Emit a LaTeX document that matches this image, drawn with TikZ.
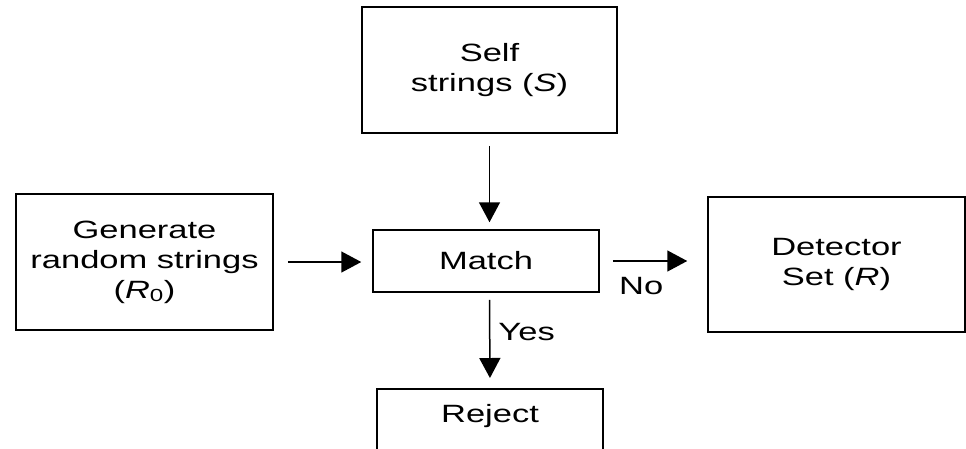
\documentclass[tikz,border=0pt]{standalone}
\usepackage{fontspec}
\setmainfont{Liberation Sans}[FakeStretch=1.38]
\usetikzlibrary{positioning, arrows.meta}

\begin{document}
\begin{tikzpicture}[x=1pt, y=-1pt,
  box/.style={draw, line width=1.5pt, align=center, font=\fontsize{25}{30}\selectfont},
  lbl/.style={font=\fontsize{25}{30}\selectfont, inner sep=2pt},
  arr/.style={-{Triangle[length=20pt, width=21pt]}, line width=1.5pt}]
  \useasboundingbox (0,0) rectangle (966,448);

  \node[box, minimum width=255pt, minimum height=126pt] (self) at (489.5,70) {Self\\strings (\textit{S})};
  \node[box, minimum width=257pt, minimum height=136pt] (gen) at (144.5,262) {Generate\\random strings\\(\textit{R}\textsubscript{0})};
  \node[box, minimum width=226pt, minimum height=62pt] (match) at (486,261) {Match};
  \node[box, minimum width=257pt, minimum height=135pt] (det) at (836.5,264.5) {Detector\\Set (\textit{R})};
  \node[box, anchor=north, minimum width=226pt, text height=18pt, text depth=50pt, inner ysep=16pt] (rej) at (490,388) {Reject};

  \draw[arr, shorten <=12pt, shorten >=7pt] (self.south) -- (self.south |- match.north);
  \draw[arr, shorten <=14pt, shorten >=11pt] (gen.east) -- (gen.east -| match.west);
  \draw[arr, shorten <=13pt, shorten >=20pt] (match.east) -- (match.east -| det.west) node[lbl, pos=0.385, below=14pt] {No};
  \draw[arr, shorten <=7pt, shorten >=10pt] (match.south -| self.south) -- (rej.north) node[lbl, pos=0.41, right=6pt] {Yes};
\end{tikzpicture}
\end{document}
